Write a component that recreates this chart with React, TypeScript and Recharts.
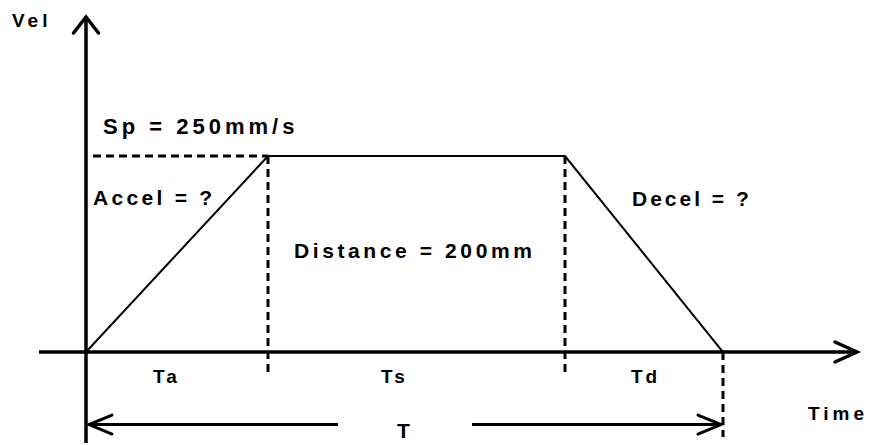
import React from "react";
import { ComposedChart, Line, XAxis, YAxis, ReferenceLine, ReferenceDot } from "recharts";

// Time points (arbitrary units) and velocity (mm/s)
const times = [0, 1.82, 4.79, 6.37];
const velocities = [0, 250, 250, 0];
const profile = times.map((t, i) => ({ t, v: velocities[i] }));

// Labels
const labels = ["Vel", "Sp = 250mm/s", "Accel = ?", "Distance = 200mm", "Decel = ?", "Ta", "Ts", "Td", "Time", "T"];
const labelT = [-0.74, 0.17, 0.07, 2.08, 5.46, 0.67, 2.95, 5.45, 7.22, 3.11];
const labelV = [414.5, 278, 187.5, 120, 186, -39.5, -39.5, -39.5, -86.5, -109.7];
const labelSize = [19, 22, 21, 21, 21, 19, 19, 19, 19, 21];
const labelSpacing = [4, 4, 3.3, 3.6, 3, 3, 3, 3, 4, 0];

const W = 869;
const H = 445;
const FONT = "'Liberation Sans', Arial, Helvetica, sans-serif";

type ArrowOpts = { len: number; half: number; width: number };

const arrowShape = (o: ArrowOpts) => (p: any) => {
  const x1 = Number(p.x1), y1 = Number(p.y1), x2 = Number(p.x2), y2 = Number(p.y2);
  const dx = x2 - x1, dy = y2 - y1;
  const d = Math.sqrt(dx * dx + dy * dy) || 1;
  const ux = dx / d, uy = dy / d;
  const bx = x2 - ux * o.len, by = y2 - uy * o.len;
  const nx = -uy, ny = ux;
  const a1 = `${bx + nx * o.half},${by + ny * o.half}`;
  const a2 = `${bx - nx * o.half},${by - ny * o.half}`;
  return (
    <g>
      <line x1={x1} y1={y1} x2={x2} y2={y2} stroke="#000" strokeWidth={o.width} />
      <polyline points={`${a1} ${x2},${y2} ${a2}`} fill="none" stroke="#000" strokeWidth={o.width} strokeLinejoin="miter" strokeLinecap="round" />
    </g>
  );
};

const dashShape = (p: any) => (
  <line x1={p.x1} y1={p.y1} x2={p.x2} y2={p.y2} stroke="#000" strokeWidth={3} strokeDasharray="8 5" />
);

const textShape = (txt: string, size: number, spacing: number) => (p: any) => (
  <text
    x={p.cx}
    y={p.cy}
    fontFamily={FONT}
    fontWeight="bold"
    fontSize={size}
    fill="#000"
    style={{ letterSpacing: `${spacing}px` }}
  >
    {txt}
  </text>
);

export default function App() {
  return (
    <div style={{ position: "absolute", left: 0, top: 0, width: W, height: H, background: "#fff" }}>
      <ComposedChart width={W} height={H} data={profile} margin={{ top: 0, right: 0, bottom: 0, left: 0 }}>
        <XAxis dataKey="t" type="number" domain={[-0.86, 7.83]} hide allowDataOverflow />
        <YAxis type="number" domain={[-118.6, 449]} hide allowDataOverflow />

        {/* dashed guides */}
        <ReferenceLine segment={[{ x: 0.07, y: 250 }, { x: times[1], y: 250 }]} shape={dashShape} />
        <ReferenceLine segment={[{ x: times[1], y: 250 }, { x: times[1], y: -25.5 }]} shape={dashShape} />
        <ReferenceLine segment={[{ x: times[2], y: 250 }, { x: times[2], y: -25.5 }]} shape={dashShape} />
        <ReferenceLine segment={[{ x: times[3], y: 0 }, { x: times[3], y: -108.4 }]} shape={dashShape} />

        {/* axes with arrows */}
        <ReferenceLine segment={[{ x: -0.47, y: 0 }, { x: 7.71, y: 0 }]} shape={arrowShape({ len: 22, half: 10, width: 3.5 })} />
        <ReferenceLine segment={[{ x: 0, y: -116 }, { x: 0, y: 427.3 }]} shape={arrowShape({ len: 16, half: 12.5, width: 3.5 })} />

        {/* total time arrows */}
        <ReferenceLine segment={[{ x: 2.52, y: -92.5 }, { x: 0.03, y: -92.5 }]} shape={arrowShape({ len: 23, half: 9.5, width: 3 })} />
        <ReferenceLine segment={[{ x: 3.86, y: -92.5 }, { x: 6.35, y: -92.5 }]} shape={arrowShape({ len: 23, half: 9.5, width: 3 })} />

        <Line dataKey="v" type="linear" stroke="#000" strokeWidth={2} dot={false} activeDot={false} isAnimationActive={false} />

        {labels.map((txt, i) => (
          <ReferenceDot key={txt} x={labelT[i]} y={labelV[i]} r={0} shape={textShape(txt, labelSize[i], labelSpacing[i])} />
        ))}
      </ComposedChart>
    </div>
  );
}
